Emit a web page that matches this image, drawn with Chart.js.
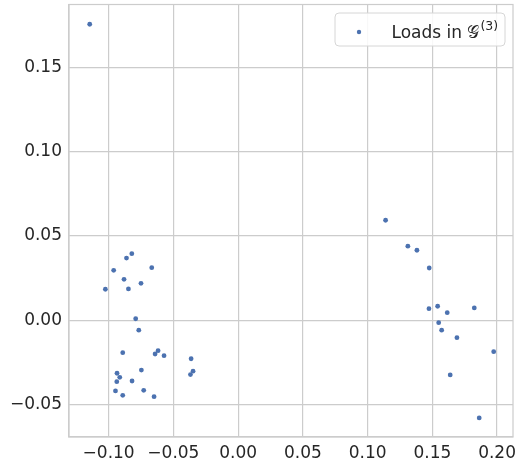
<!DOCTYPE html>
<html>
<head>
<meta charset="utf-8">
<script src="https://cdn.jsdelivr.net/npm/chart.js@4.4.1/dist/chart.umd.min.js"></script>
<style>
  html, body { margin: 0; padding: 0; background: #fff; }
  #wrap { width: 525px; height: 464px; position: relative; }
</style>
</head>
<body>
<div id="wrap"><canvas id="scatterChart" width="525" height="464"></canvas></div>
<script>
"use strict";

// values
const seriesLabel = 'Loads in';
const xValues = [
    -0.1146,
    -0.0821, -0.0862, -0.0667, -0.0961, -0.0881, -0.0750, -0.0847, -0.1025,
    -0.0791, -0.0767, -0.0891, -0.0618, -0.0641, -0.0572, -0.0363, -0.0348,
    -0.0368, -0.0747, -0.0935, -0.0914, -0.0937, -0.0819, -0.0947, -0.0729,
    -0.0891, -0.0649,
    0.1139, 0.1311, 0.1381, 0.1476, 0.1474, 0.1541, 0.1615, 0.1824,
    0.1549, 0.1572, 0.1690, 0.1974, 0.1638, 0.1862
];
const yValues = [
    0.1755,
    0.0395, 0.0369, 0.0312, 0.0296, 0.0243, 0.0219, 0.0186, 0.0184,
    0.0009, -0.0059, -0.0192, -0.0180, -0.0200, -0.0210, -0.0228, -0.0302,
    -0.0322, -0.0295, -0.0314, -0.0338, -0.0364, -0.0360, -0.0419, -0.0415,
    -0.0445, -0.0453,
    0.0593, 0.0439, 0.0415, 0.0310, 0.0069, 0.0083, 0.0045, 0.0073,
    -0.0014, -0.0059, -0.0103, -0.0186, -0.0324, -0.0579
];
const xTicks = [-0.10, -0.05, 0.00, 0.05, 0.10, 0.15, 0.20];
const yTicks = [-0.05, 0.00, 0.05, 0.10, 0.15];

const gridColor = '#cccccc';
const textColor = '#262626';
const pointColor = '#4c72b0';

const fmt = v => (v < 0 ? '\u2212' : '') + Math.abs(v).toFixed(2);

// top/right spines + in-plot legend
const framePlugin = {
    id: 'frame',
    afterDraw(chart) {
        const { ctx, chartArea: a } = chart;
        ctx.save();
        ctx.strokeStyle = gridColor;
        ctx.lineWidth = 1.2;
        ctx.strokeRect(a.left, a.top, a.right - a.left, a.bottom - a.top);

        // legend box
        const bx = 335, by = 13, bw = 170, bh = 33, r = 4;
        ctx.beginPath();
        ctx.moveTo(bx + r, by);
        ctx.arcTo(bx + bw, by, bx + bw, by + bh, r);
        ctx.arcTo(bx + bw, by + bh, bx, by + bh, r);
        ctx.arcTo(bx, by + bh, bx, by, r);
        ctx.arcTo(bx, by, bx + bw, by, r);
        ctx.closePath();
        ctx.fillStyle = 'rgba(255,255,255,0.85)';
        ctx.fill();
        ctx.strokeStyle = '#d6d6d6';
        ctx.lineWidth = 1;
        ctx.stroke();

        ctx.fillStyle = pointColor;
        ctx.beginPath();
        ctx.arc(359, 32, 2.2, 0, Math.PI * 2);
        ctx.fill();

        ctx.fillStyle = textColor;
        ctx.textBaseline = 'alphabetic';
        ctx.font = '17px "DejaVu Sans"';
        ctx.fillText(seriesLabel, 391.5, 38);
        let x = 391.5 + ctx.measureText(seriesLabel + ' ').width;
        const g = '\uD835\uDCA2';
        ctx.fillText(g, x, 38);
        x += ctx.measureText(g).width + 1;
        ctx.font = '12.5px "DejaVu Sans"';
        ctx.fillText('(3)', x, 30);
        ctx.restore();
    }
};

const ctx = document.getElementById('scatterChart').getContext('2d');
const chart = new Chart(ctx, {
    type: 'scatter',
    data: {
        datasets: [{
            label: seriesLabel,
            data: xValues.map((x, i) => ({ x: x, y: yValues[i] })),
            backgroundColor: pointColor,
            borderColor: pointColor,
            borderWidth: 0,
            pointRadius: 2.4
        }]
    },
    options: {
        responsive: false,
        animation: false,
        layout: { padding: { top: 4.5, right: 12, left: 0, bottom: 0 } },
        plugins: {
            legend: { display: false },
            tooltip: { enabled: false }
        },
        scales: {
            x: {
                type: 'linear',
                min: -0.1306,
                max: 0.2123,
                afterBuildTicks: s => { s.ticks = xTicks.map(v => ({ value: v })); },
                afterFit: s => { s.height = 27; s.paddingLeft = 0; s.paddingRight = 0; },
                grid: { color: gridColor, lineWidth: 1.2, drawTicks: false },
                border: { color: gridColor, width: 1.2 },
                ticks: {
                    color: textColor,
                    font: { family: 'DejaVu Sans', size: 17 },
                    padding: 6,
                    maxRotation: 0,
                    callback: v => fmt(v)
                }
            },
            y: {
                type: 'linear',
                min: -0.0692,
                max: 0.1872,
                afterBuildTicks: s => { s.ticks = yTicks.map(v => ({ value: v })); },
                afterFit: s => { s.width = 69; s.paddingTop = 0; s.paddingBottom = 0; },
                grid: { color: gridColor, lineWidth: 1.2, drawTicks: false },
                border: { color: gridColor, width: 1.2 },
                ticks: {
                    color: textColor,
                    font: { family: 'DejaVu Sans', size: 17 },
                    padding: 7,
                    callback: v => fmt(v)
                }
            }
        }
    },
    plugins: [framePlugin]
});
</script>
</body>
</html>
